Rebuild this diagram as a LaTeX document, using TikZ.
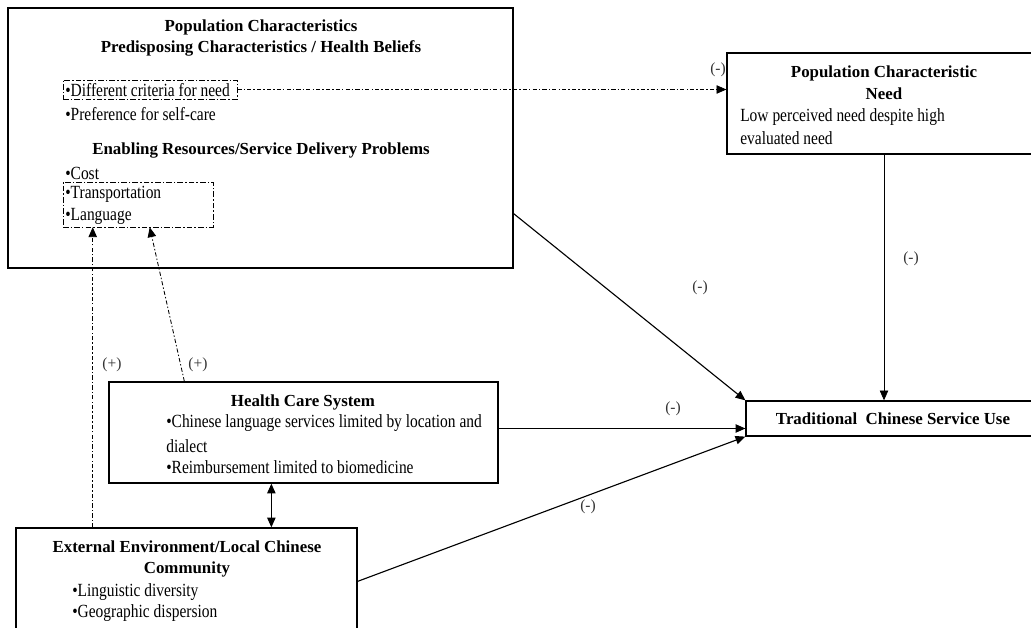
\documentclass[tikz,border=0pt]{standalone}
\usepackage{fontspec}
\setmainfont{Liberation Serif}
\usetikzlibrary{arrows.meta,calc}

\tikzset{
  box/.style={draw,line width=0.9pt,inner sep=0pt},
  inbox/.style={draw,line width=0.4pt,inner sep=0pt,dash pattern=on 4pt off 1.5pt on 1pt off 1.5pt},
  tip/.style={-{Triangle[width=6pt,length=7pt]}},
  conn/.style={line width=0.8pt,tip},
  dconn/.style={line width=0.6pt,dash pattern=on 3pt off 1.5pt on 1pt off 1.5pt,tip},
  txt/.style={inner sep=0pt,anchor=west,yscale=1.2},
  ttl/.style={inner sep=0pt,font=\fontsize{12pt}{14pt}\selectfont\bfseries},
  sign/.style={inner sep=0pt,font=\fontsize{11pt}{13pt}\selectfont,text=black!80}
}

\begin{document}
\begin{tikzpicture}[x=0.025cm,y=-0.025cm,font=\fontsize{11pt}{13pt}\selectfont]
   \clip (0,0) rectangle (1031,628);

   % boxes
   \node[box,minimum width=505*0.025cm,minimum height=260*0.025cm] (pop) at (260.5,138) {};
   \node[box,minimum width=314*0.025cm,minimum height=101*0.025cm] (need) at (884,103.5) {};
   \node[box,minimum width=294*0.025cm,minimum height=35*0.025cm] (trad) at (893,418.5) {};
   \node[box,minimum width=389*0.025cm,minimum height=101*0.025cm] (hcs) at (303.5,432.5) {};
   \node[box,minimum width=341*0.025cm,minimum height=122*0.025cm] (ext) at (186.5,589) {};
   \node[inbox,minimum width=174*0.025cm,minimum height=19*0.025cm] (crit) at (150,89.5) {};
   \node[inbox,minimum width=150*0.025cm,minimum height=45*0.025cm] (tpl) at (138,204.5) {};

   % texts
   \node[ttl] (popt1) at (261,27) {Population Characteristics};
   \node[ttl] (popt2) at (261,48) {Predisposing Characteristics / Health Beliefs};
   \node[txt] (crit1) at (65,90) {•Different criteria for need};
   \node[txt] (self1) at (65,114) {•Preference for self-care};
   \node[ttl] (popt3) at (261,151) {Enabling Resources/Service Delivery Problems};
   \node[txt] (cost1) at (65,173) {•Cost};
   \node[txt] (tran1) at (65,194) {•Transportation};
   \node[txt] (lang1) at (65,216) {•Language};

   \node[ttl] (needt1) at (884,73) {Population Characteristic};
   \node[ttl] (needt2) at (884,94) {Need};
   \node[txt] (need1) at (740,117) {Low perceived need despite high};
   \node[txt] (need2) at (740,138) {evaluated need};

   \node[ttl] (tradt) at (893,419) {Traditional\ \ Chinese Service Use};

   \node[ttl] (hcst) at (303,402) {Health Care System};
   \node[txt] (hcs1) at (166,423) {•Chinese language services limited by location and};
   \node[txt] (hcs2) at (166,446) {dialect};
   \node[txt] (hcs3) at (166,467) {•Reimbursement limited to biomedicine};

   \node[ttl] (extt1) at (187,547) {External Environment/Local Chinese};
   \node[ttl] (extt2) at (187,569) {Community};
   \node[txt] (ext1) at (72,592) {•Linguistic diversity};
   \node[txt] (ext2) at (72,613) {•Geographic dispersion};

   % connectors
   \coordinate (popout) at ($(pop.south east)+(0,-55)$);
   \coordinate (hcsout) at ($(hcs.east)+(0,-4)$);
   \coordinate (extout) at ($(ext.north east)+(0,54)$);
   \coordinate (tipa) at ($(tpl.south west)+(30,0)$);
   \coordinate (tipb) at ($(tpl.south west)+(87,0)$);
   \coordinate (hcsin) at ($(hcs.north west)+(76,0)$);
   \coordinate (link) at ($(hcs.south west)+(163,0)$);

   \draw[dconn] (crit.east) -- (crit.east -| need.west);
   \draw[conn] (popout) -- (trad.north west);
   \draw[line width=0.5pt,tip] (need.south) -- (need.south |- trad.north);
   \draw[conn] (hcsout) -- (hcsout -| trad.west);
   \draw[conn] (extout) -- (trad.south west);
   \draw[line width=0.8pt,{Triangle[width=6pt,length=7pt]}-{Triangle[width=6pt,length=7pt]}] (link) -- (link |- ext.north);
   \draw[dconn] (tipa |- ext.north) -- (tipa);
   \draw[dconn] (hcsin) -- (tipb);

   % signs
   \node[sign] (s1) at (718,70) {(-)};
   \node[sign] (s2) at (700,288) {(-)};
   \node[sign] (s3) at (911,259) {(-)};
   \node[sign] (s4) at (673,409) {(-)};
   \node[sign] (s5) at (588,507) {(-)};
   \node[sign] (s6) at (112,365) {(+)};
   \node[sign] (s7) at (198,365) {(+)};
\end{tikzpicture}
\end{document}
